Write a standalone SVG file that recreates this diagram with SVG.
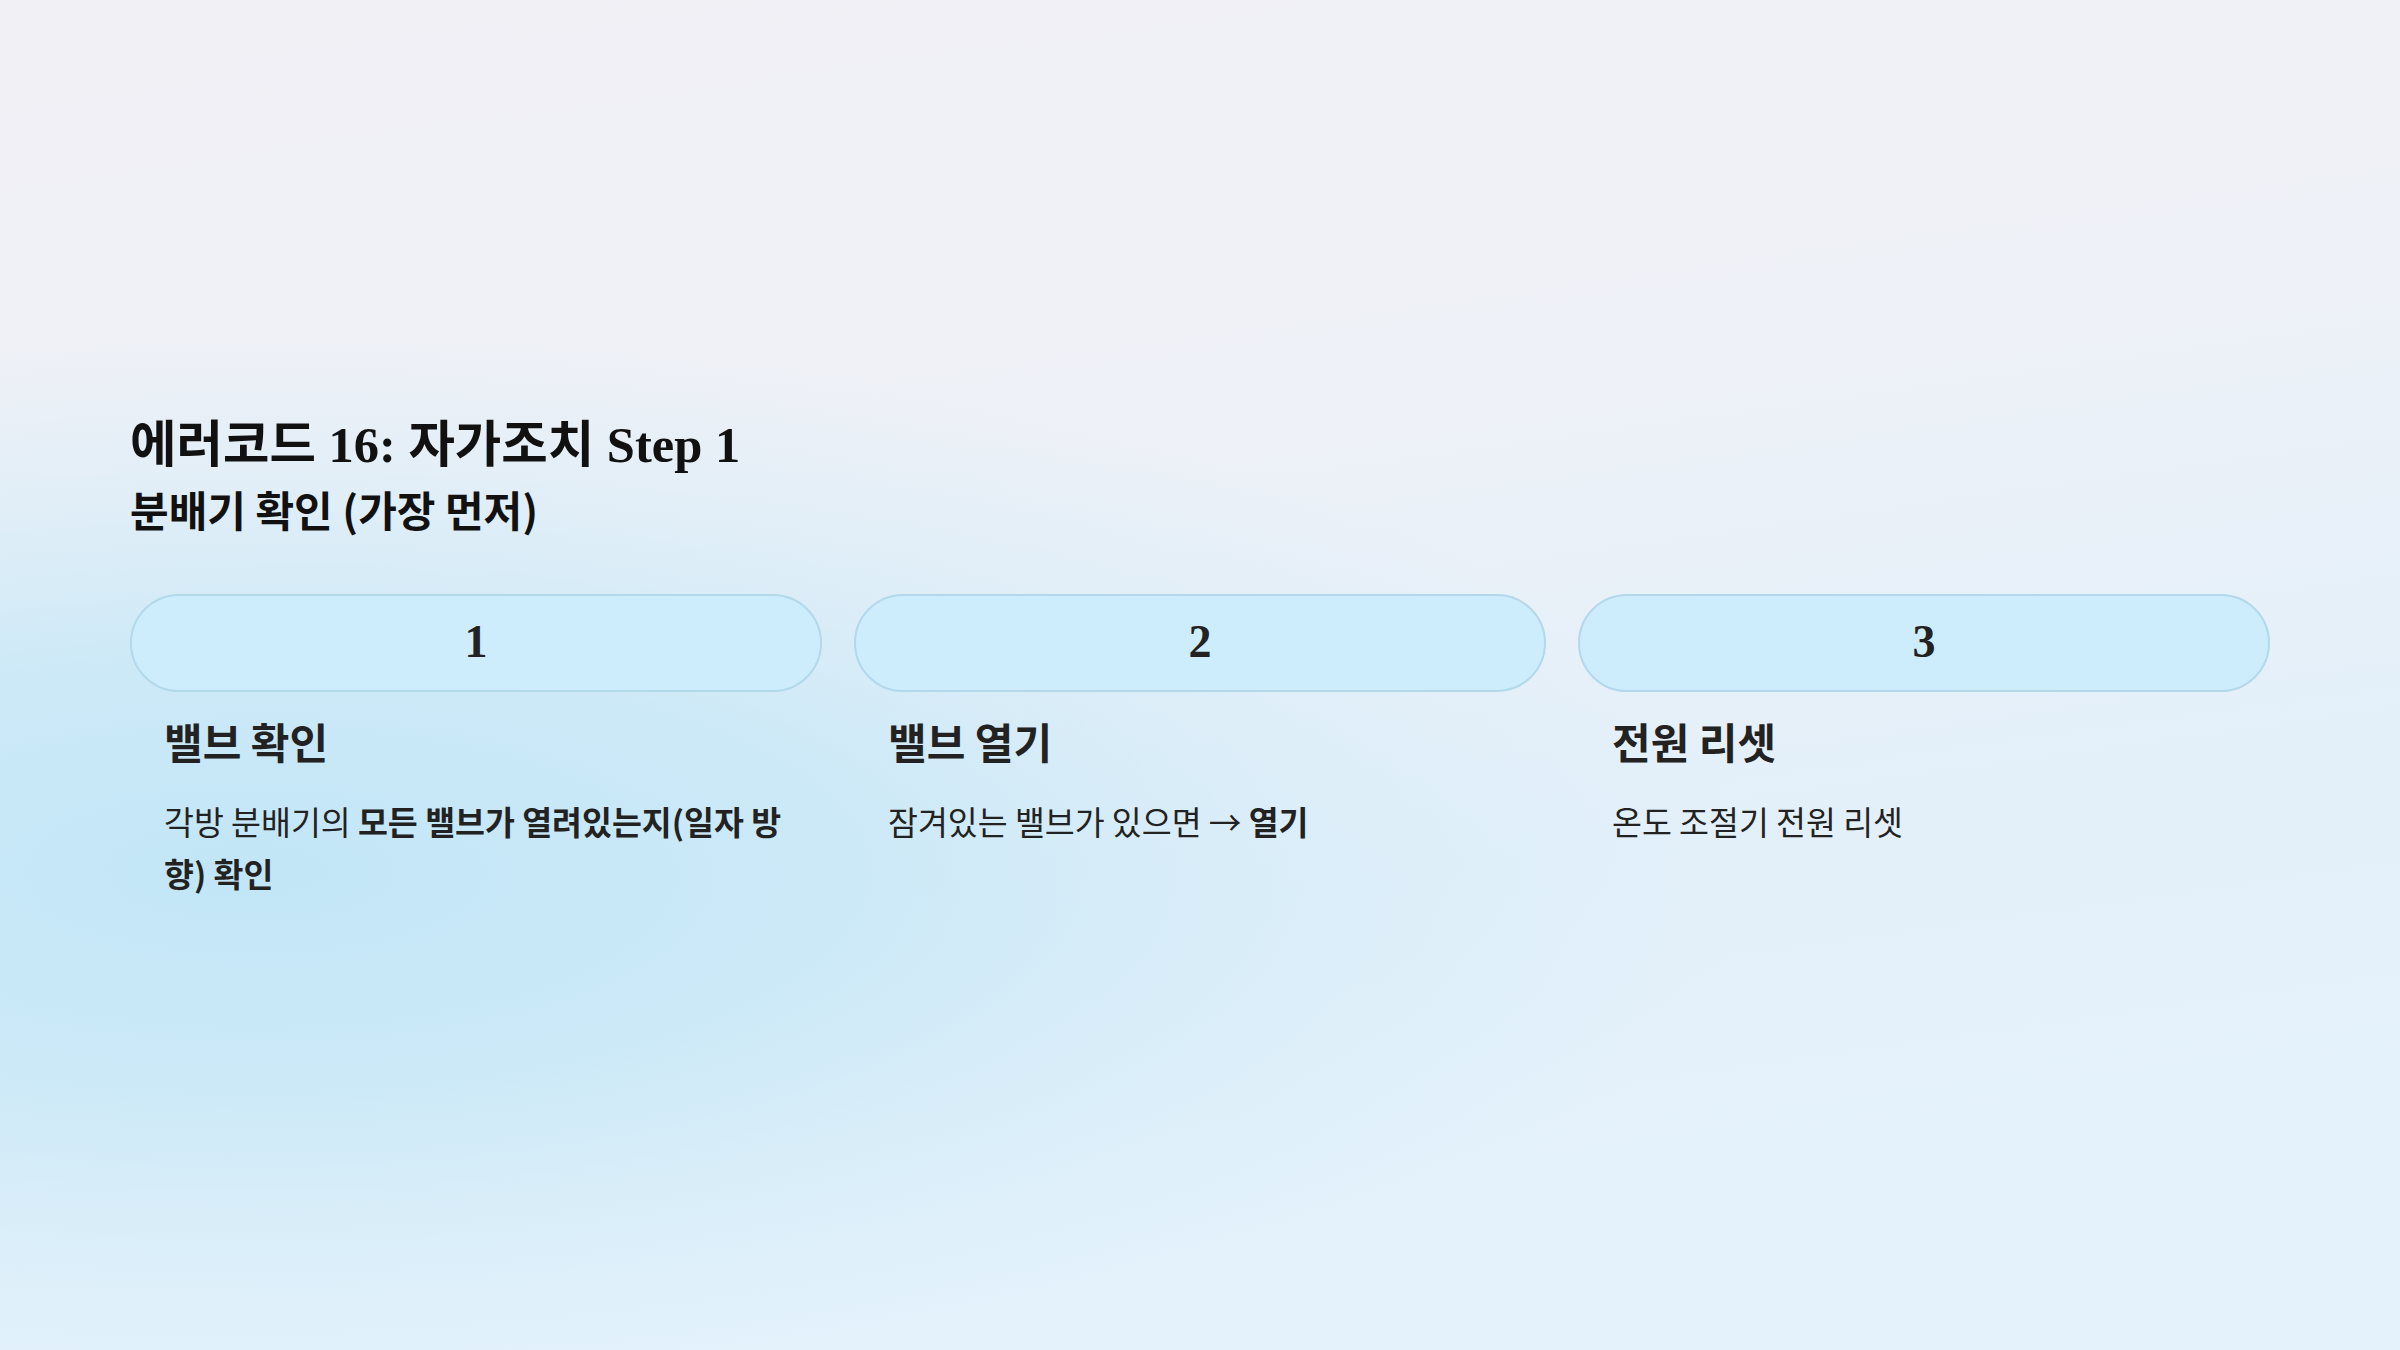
<svg xmlns="http://www.w3.org/2000/svg" width="2400" height="1350" viewBox="0 0 2400 1350">
<defs>
<linearGradient id="bg" x1="0" y1="0" x2="0.25" y2="1">
<stop offset="0" stop-color="#f1f0f5"/>
<stop offset="0.4" stop-color="#eef1f7"/>
<stop offset="0.75" stop-color="#e3f0fa"/>
<stop offset="1" stop-color="#e4f2fb"/>
</linearGradient>
<radialGradient id="blue" cx="250" cy="870" r="1500" gradientUnits="userSpaceOnUse" gradientTransform="translate(250 870) scale(1 0.36) translate(-250 -870)">
<stop offset="0" stop-color="#c2e6f7" stop-opacity="1"/>
<stop offset="0.4" stop-color="#c8e8f7" stop-opacity="0.85"/>
<stop offset="1" stop-color="#d5ecf8" stop-opacity="0"/>
</radialGradient>
<style>
.pill{fill:#cdedfd;stroke:#b2d8ea;stroke-width:2}
.num{font-family:"Liberation Serif","Noto Serif",serif;font-weight:bold;font-size:46px;fill:#222;text-anchor:middle}
.h{font-family:"Noto Sans CJK KR",sans-serif;font-weight:bold;font-size:42px;fill:#222}
.b{font-family:"Noto Sans CJK KR",sans-serif;font-size:32.5px;fill:#222}
.bb{font-weight:bold}
.title{font-family:"Liberation Serif","Noto Sans CJK KR",serif;font-weight:bold;font-size:50.5px;fill:#111}
.sub{font-family:"Noto Sans CJK KR",sans-serif;font-weight:bold;font-size:42px;fill:#111}
</style>
</defs>
<rect width="2400" height="1350" fill="url(#bg)"/>
<rect width="2400" height="1350" fill="url(#blue)"/>
<g id="title">
<text class="title" x="130" y="462">에러코드 16: 자가조치 Step 1</text>
<text class="sub" x="130" y="527">분배기 확인 (가장 먼저)</text>
</g>
<g id="connectors"></g>
<g id="step1">
<rect class="pill" x="131" y="595" width="690" height="96" rx="48"/>
<text class="num" x="476" y="657">1</text>
<text class="h" x="164" y="759">밸브 확인</text>
<text class="b" x="164" y="835">각방 분배기의 <tspan class="bb">모든 밸브가 열려있는지(일자 방</tspan></text>
<text class="b bb" x="164" y="887">향) 확인</text>
</g>
<g id="step2">
<rect class="pill" x="855" y="595" width="690" height="96" rx="48"/>
<text class="num" x="1200" y="657">2</text>
<text class="h" x="888" y="759">밸브 열기</text>
<text class="b" x="888" y="835">잠겨있는 밸브가 있으면 → <tspan class="bb">열기</tspan></text>
</g>
<g id="step3">
<rect class="pill" x="1579" y="595" width="690" height="96" rx="48"/>
<text class="num" x="1924" y="657">3</text>
<text class="h" x="1612" y="759">전원 리셋</text>
<text class="b" x="1612" y="835">온도 조절기 전원 리셋</text>
</g>
</svg>
